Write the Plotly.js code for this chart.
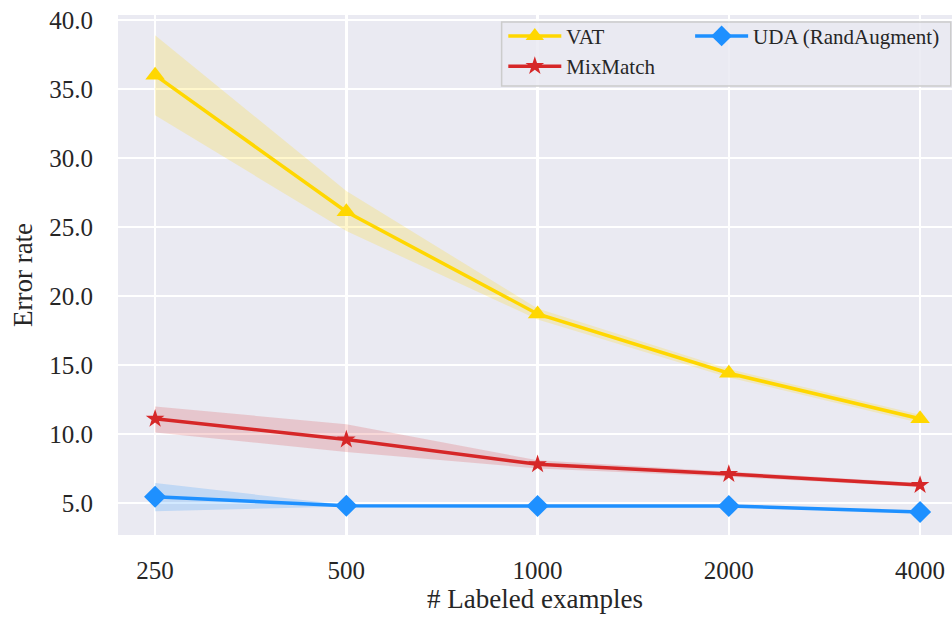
<!DOCTYPE html>
<html><head><meta charset="utf-8">
<script src="https://cdn.plot.ly/plotly-3.0.1.min.js"></script>
<style>html,body{margin:0;padding:0;background:#fff;overflow:hidden}#chart{width:952px;height:618px}</style>
</head><body><div id="chart"></div>
<script>
const categories = ['250', '500', '1000', '2000', '4000'];
const vatMean  = [36.0, 26.1, 18.7, 14.4, 11.1];
const vatLow   = [33.1, 24.7, 18.3, 14.1, 10.8];
const vatHigh  = [38.9, 27.6, 19.1, 14.7, 11.4];
const mixMean  = [11.1, 9.6, 7.8, 7.1, 6.3];
const mixLow   = [10.1, 8.7, 7.5, 6.9, 6.15];
const mixHigh  = [12.0, 10.7, 8.1, 7.3, 6.45];
const udaMean  = [5.45, 4.8, 4.78, 4.78, 4.35];
const udaLow   = [4.4, 4.75, 4.72, 4.72, 4.28];
const udaHigh  = [6.45, 4.85, 4.84, 4.84, 4.42];
const seriesNames = ['VAT', 'MixMatch', 'UDA (RandAugment)'];

const colors = ['#ffd700', '#d62728', '#1e90ff'];
const bandColors = ['rgba(255,215,0,0.2)', 'rgba(214,39,40,0.18)', 'rgba(30,144,255,0.2)'];
const symbols = ['triangle-up', 'star', 'diamond'];
const msizes = [17, 14, 17];
const legends = ['legend', 'legend2', 'legend3'];
const means = [vatMean, mixMean, udaMean];
const lows = [vatLow, mixLow, udaLow];
const highs = [vatHigh, mixHigh, udaHigh];

const traces = [];
for (let i = 0; i < 3; i++) {
  traces.push({
    type: 'scatter', mode: 'lines',
    x: categories.concat(categories.slice().reverse()),
    y: highs[i].concat(lows[i].slice().reverse()),
    fill: 'toself', fillcolor: bandColors[i],
    line: {width: 0, color: 'rgba(0,0,0,0)'},
    hoverinfo: 'skip', showlegend: false
  });
}
for (let i = 0; i < 3; i++) {
  traces.push({
    type: 'scatter', mode: 'lines+markers',
    x: categories, y: means[i], name: seriesNames[i],
    line: {color: colors[i], width: 3.5},
    marker: {symbol: symbols[i], size: msizes[i], color: colors[i], line: {width: 0}},
    legend: legends[i]
  });
}

const serif = 'Liberation Serif, Times New Roman, serif';
const legBase = {
  bgcolor: 'rgba(0,0,0,0)', borderwidth: 0,
  font: {family: serif, size: 21, color: '#262626'},
  xanchor: 'left', yanchor: 'middle', itemwidth: 53
};
const layout = {
  width: 952, height: 618,
  margin: {l: 118, r: 0, t: 15, b: 83},
  paper_bgcolor: '#ffffff', plot_bgcolor: '#eaeaf2',
  font: {family: serif, color: '#262626'},
  xaxis: {
    type: 'category', range: [-0.194, 4.167],
    showgrid: true, gridcolor: '#ffffff', gridwidth: 2.5,
    zeroline: false, showline: false,
    ticks: 'outside', ticklen: 13, tickcolor: 'rgba(0,0,0,0)',
    tickfont: {family: serif, size: 25, color: '#262626'},
    title: {text: '# Labeled examples', font: {family: serif, size: 27, color: '#262626'}, standoff: 4}
  },
  yaxis: {
    range: [2.68, 40.36],
    tickvals: [5, 10, 15, 20, 25, 30, 35, 40],
    ticktext: ['5.0', '10.0', '15.0', '20.0', '25.0', '30.0', '35.0', '40.0'],
    showgrid: true, gridcolor: '#ffffff', gridwidth: 2.5,
    zeroline: false, showline: false,
    ticks: 'outside', ticklen: 19, tickcolor: 'rgba(0,0,0,0)',
    tickfont: {family: serif, size: 25, color: '#262626'},
    title: {text: 'Error rate', font: {family: serif, size: 27, color: '#262626'}, standoff: 8}
  },
  shapes: [{
    type: 'rect', xref: 'paper', yref: 'paper',
    x0: 0.46, x1: 0.9985, y0: 0.8635, y1: 0.9865,
    fillcolor: 'rgba(234,234,242,0.85)', line: {color: '#cccccc', width: 1.5},
    layer: 'above'
  }],
  legend: Object.assign({}, legBase, {x: 0.462, y: 0.959}),
  legend2: Object.assign({}, legBase, {x: 0.462, y: 0.901}),
  legend3: Object.assign({}, legBase, {x: 0.686, y: 0.959}),
  showlegend: true
};
Plotly.newPlot('chart', traces, layout, {displayModeBar: false, staticPlot: true});
</script></body></html>
